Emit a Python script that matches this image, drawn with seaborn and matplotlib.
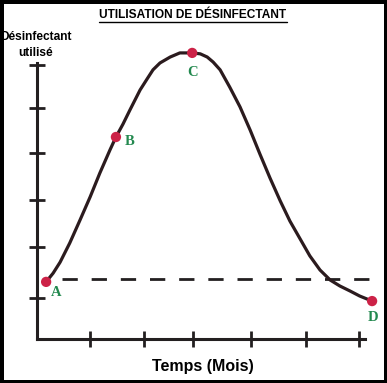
import matplotlib
matplotlib.use("Agg")
import matplotlib.pyplot as plt
import seaborn as sns
import pandas as pd
from matplotlib.lines import Line2D

# ---- data ----
curve_x = [0.17, 0.30, 0.43, 0.61, 0.80, 0.99, 1.17, 1.36, 1.47, 1.60, 1.73, 1.92,
           2.05, 2.16, 2.29, 2.48, 2.66, 2.89, 3.04, 3.17, 3.28, 3.41, 3.59, 3.78,
           3.97, 4.15, 4.34, 4.53, 4.71, 4.90, 5.08, 5.27, 5.46, 5.64, 5.83, 6.01, 6.24]
curve_y = [1.25, 1.44, 1.68, 2.10, 2.60, 3.11, 3.63, 4.14, 4.42, 4.70, 5.01, 5.45,
           5.69, 5.89, 6.04, 6.17, 6.26, 6.26, 6.24, 6.17, 6.06, 5.89, 5.51, 5.08,
           4.57, 4.05, 3.52, 3.02, 2.58, 2.19, 1.82, 1.51, 1.29, 1.16, 1.05, 0.94, 0.83]
point_labels = ["A", "B", "C", "D"]
point_x = [0.17, 1.47, 2.89, 6.24]
point_y = [1.25, 4.42, 6.26, 0.83]
threshold_y = 1.31
threshold_x = [0.47, 6.41]
xtick_pos = [0.99, 1.99, 2.91, 3.99, 5.01, 5.99]
ytick_pos = [0.90, 2.01, 3.04, 4.07, 5.05, 6.00]
title = "UTILISATION DE DÉSINFECTANT"
ylabel = "Désinfectant\nutilisé"
xlabel = "Temps (Mois)"

curve = pd.DataFrame({"x": curve_x, "y": curve_y})
pts = pd.DataFrame({"x": point_x, "y": point_y, "label": point_labels})

sns.set_style("white")
plt.rcParams["font.family"] = ["Liberation Sans", "DejaVu Sans"]

W, H = 387, 383
fig = plt.figure(figsize=(W / 100, H / 100), dpi=100, linewidth=5, edgecolor="black")
# axes origin at pixel (37, 339), top at pixel 40, right at pixel 383
ax = fig.add_axes([37 / W, (H - 339) / H, (383 - 37) / W, (339 - 40) / H])
ax.set_xlim(0, (383 - 37) / 53.7)
ax.set_ylim(0, (339 - 40) / 45.7)

axis_col = "#231f20"
curve_col = "#2b1b1e"

# threshold dashed line
ax.plot(threshold_x, [threshold_y, threshold_y], color=axis_col, lw=2.0,
        dashes=(5.5, 5.0), clip_on=False, zorder=2)

sns.lineplot(data=curve, x="x", y="y", ax=ax, color=curve_col, lw=2.3,
             sort=False, estimator=None, zorder=3)
ax.lines[-1].set_solid_joinstyle("round")
ax.lines[-1].set_solid_capstyle("round")
ax.lines[-1].set_clip_on(False)

sns.scatterplot(data=pts, x="x", y="y", ax=ax, color="#cc2247", s=55,
                edgecolor="none", zorder=4, clip_on=False, legend=False)

offsets = {"A": (7, -8), "B": (10, -3), "C": (0, -14), "D": (1, -12)}
for lab, x, y in zip(point_labels, point_x, point_y):
    ax.annotate(lab, (x, y), xytext=offsets[lab], textcoords="offset points",
                ha="center", va="center", color="#23894f", fontsize=10.5,
                fontweight="bold", family="Liberation Serif", zorder=5)

# spines
for s in ["top", "right"]:
    ax.spines[s].set_visible(False)
ax.spines["left"].set_linewidth(2.2)
ax.spines["bottom"].set_linewidth(2.2)
ax.spines["left"].set_color(axis_col)
ax.spines["bottom"].set_color(axis_col)
ax.spines["left"].set_bounds(0, 6.05)
ax.spines["bottom"].set_bounds(0, 6.11)

ax.set_xticks(xtick_pos)
ax.set_yticks(ytick_pos)
ax.set_xticklabels([])
ax.set_yticklabels([])
ax.tick_params(axis="both", direction="inout", length=12, width=2.0,
               color=axis_col, left=True, bottom=True)
ax.set_xlabel("")
ax.set_ylabel("")
ax.patch.set_alpha(0)

# texts
t = fig.text(193 / W, 1 - 15 / H, title, ha="center", va="center",
             fontsize=8.6, fontweight="bold", color="black")
fig.text(36 / W, 1 - 45 / H, ylabel, ha="center", va="center",
         fontsize=8.6, fontweight="bold", color="black", linespacing=1.45)
fig.text(203 / W, 1 - 366 / H, xlabel, ha="center", va="center",
         fontsize=11.5, fontweight="bold", color="black")

# underline title
fig.canvas.draw()
bb = t.get_window_extent().transformed(fig.transFigure.inverted())
fig.add_artist(Line2D([bb.x0, bb.x1], [bb.y0 - 1.5 / H, bb.y0 - 1.5 / H],
                      transform=fig.transFigure, color="black", lw=1.0))

fig.savefig("out.png", dpi=100, edgecolor=fig.get_edgecolor())
